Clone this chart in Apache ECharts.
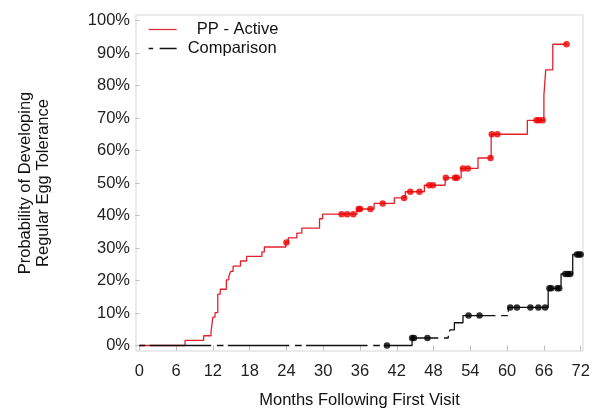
<!DOCTYPE html>
<html>
<head>
<meta charset="utf-8">
<script src="https://cdn.jsdelivr.net/npm/echarts@6/dist/echarts.min.js"></script>
<style>
html,body{margin:0;padding:0;background:#fff;}
#chart{width:600px;height:417px;}
</style>
</head>
<body>
<div id="chart"></div>
<script>
// Kaplan-Meier style cumulative probability (%), step times in months
const ppTimes  = [0, 7.46, 10.5, 11.7, 12.0, 12.35, 12.8, 13.2, 14.2, 14.6, 14.9, 15.3, 16.5, 17.5, 20.0, 20.4, 23.9, 24.3, 25.7, 26.5, 29.4, 29.9, 35.5, 38.3, 41.6, 43.4, 46.5, 49.9, 52.5, 55.25, 57.4, 63.3, 66.0, 66.3, 67.45, 69.7];
const ppValues = [0, 1.6, 3.0, 4.3, 8.7, 10.1, 15.8, 17.3, 20.2, 21.3, 22.8, 24.4, 26.0, 27.4, 28.8, 30.3, 31.7, 33.1, 34.6, 36.1, 39.0, 40.4, 42.0, 43.7, 45.4, 47.3, 49.3, 51.6, 54.5, 57.7, 65.0, 69.3, 77.0, 84.8, 92.7, 92.7];
const ppCensorTimes  = [24.0, 33.0, 33.9, 34.9, 35.8, 36.0, 37.7, 39.7, 43.2, 44.2, 45.7, 47.3, 47.9, 50.0, 51.5, 51.8, 52.8, 53.6, 57.3, 57.5, 58.4, 64.8, 65.2, 65.8, 69.7];
const ppCensorValues = [31.7, 40.4, 40.4, 40.4, 42.0, 42.0, 42.0, 43.7, 45.4, 47.3, 47.3, 49.3, 49.3, 51.6, 51.6, 51.6, 54.5, 54.5, 57.7, 65.0, 65.0, 69.3, 69.3, 69.3, 92.7];

const cmpTimes  = [0, 44.5, 50.4, 50.7, 51.4, 52.8, 60.2, 66.7, 68.8, 70.7, 72.0];
const cmpValues = [0, 2.3, 3.6, 4.8, 7.0, 9.2, 11.7, 17.6, 22.0, 28.0, 28.0];
const cmpCensorTimes  = [40.4, 44.5, 44.8, 47.0, 53.7, 55.5, 60.5, 61.6, 63.8, 65.1, 66.2, 66.9, 67.2, 68.2, 68.5, 69.5, 69.9, 70.3, 71.4, 71.7, 72.0];
const cmpCensorValues = [0, 2.3, 2.3, 2.3, 9.2, 9.2, 11.7, 11.7, 11.7, 11.7, 11.7, 17.6, 17.6, 17.6, 17.6, 22.0, 22.0, 22.0, 28.0, 28.0, 28.0];

const xTicks = [0, 6, 12, 18, 24, 30, 36, 42, 48, 54, 60, 66, 72];
const yTicks = [0, 10, 20, 30, 40, 50, 60, 70, 80, 90, 100];

const zip = (a, b) => a.map((v, i) => [v, b[i]]);
const FONT = 'Liberation Sans';

const chart = echarts.init(document.getElementById('chart'), null, {renderer: 'canvas'});
chart.setOption({
  animation: false,
  backgroundColor: '#fff',
  grid: {left: 136, right: 17, top: 15, bottom: 66, show: true, borderColor: '#d6d6d6', borderWidth: 1},
  legend: {
    orient: 'vertical', left: 148, top: 20, padding: 0, itemWidth: 28, itemHeight: 14, itemGap: 0,
    textStyle: {fontFamily: FONT, fontSize: 16.5, color: '#111', lineHeight: 19, padding: [0, 0, 0, 6]},
    formatter: n => n === 'PP - Active' ? '  ' + n : n,
    data: [
      {name: 'PP - Active', itemStyle: {opacity: 0}, lineStyle: {color: '#d8303e', width: 1.3}},
      {name: 'Comparison', itemStyle: {opacity: 0}, lineStyle: {color: '#111', width: 1.3, type: [4.5, 6.5, 17], dashOffset: 0}}
    ]
  },
  xAxis: {
    type: 'value', min: -0.54, max: 72.38,
    splitLine: {show: false}, axisLine: {show: false},
    axisTick: {show: true, customValues: xTicks, length: 5, lineStyle: {color: '#bdbdbd'}},
    axisLabel: {customValues: xTicks, fontFamily: FONT, fontSize: 16.5, color: '#222', margin: 12},
    name: 'Months Following First Visit', nameLocation: 'middle', nameGap: 41,
    nameTextStyle: {fontFamily: FONT, fontSize: 16.5, color: '#111'}
  },
  yAxis: {
    type: 'value', min: -1.7, max: 101.7,
    splitLine: {show: false}, axisLine: {show: false},
    axisTick: {show: true, customValues: yTicks, length: 4, lineStyle: {color: '#bdbdbd'}},
    axisLabel: {customValues: yTicks, fontFamily: FONT, fontSize: 16.5, color: '#222', margin: 6, formatter: '{value}%'},
    name: 'Probability of Developing\nRegular Egg Tolerance', nameLocation: 'middle', nameGap: 84,
    nameTextStyle: {fontFamily: FONT, fontSize: 16.5, color: '#111', lineHeight: 18}
  },
  series: [
    {
      name: 'PP - Active', type: 'line', step: 'end', data: zip(ppTimes, ppValues),
      symbol: 'none', lineStyle: {color: '#e2202c', width: 1.3}, itemStyle: {color: '#e2202c'}, z: 2
    },
    {
      name: 'PP censored', type: 'scatter', data: zip(ppCensorTimes, ppCensorValues),
      symbolSize: 6.5, itemStyle: {color: '#f00000'}, z: 3
    },
    {
      name: 'Comparison', type: 'line', step: 'end', data: zip(cmpTimes, cmpValues),
      symbol: 'none', lineStyle: {color: '#111', width: 1.3, type: [61.5, 5.7, 6.7, 4.3], dashOffset: 67.9},
      itemStyle: {color: '#111'}, z: 4
    },
    {
      name: 'Comparison censored', type: 'scatter', data: zip(cmpCensorTimes, cmpCensorValues),
      symbolSize: 6.5, itemStyle: {color: '#000'}, z: 5
    }
  ]
});
</script>
</body>
</html>
